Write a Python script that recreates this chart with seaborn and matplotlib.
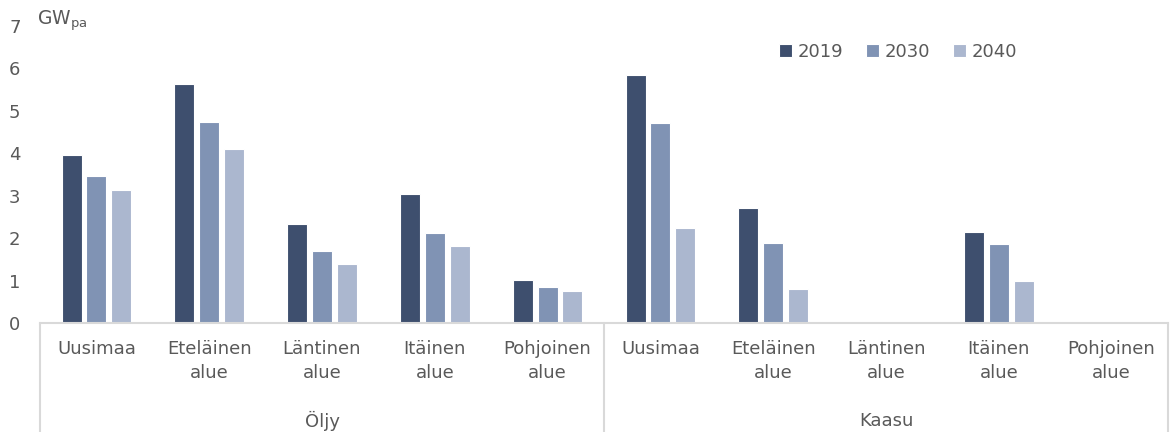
import matplotlib
matplotlib.use("Agg")
import matplotlib.pyplot as plt
import matplotlib.transforms as mtransforms
import seaborn as sns
import pandas as pd

# ---- data ----
groups = ["Öljy", "Kaasu"]
regions = ["Uusimaa", "Eteläinen\nalue", "Läntinen\nalue", "Itäinen\nalue", "Pohjoinen\nalue"]
years = ["2019", "2030", "2040"]

oljy_2019 = [3.97, 5.62, 2.34, 3.04, 1.02]
oljy_2030 = [3.47, 4.73, 1.70, 2.12, 0.85]
oljy_2040 = [3.14, 4.09, 1.40, 1.82, 0.76]

kaasu_2019 = [5.84, 2.71, 0.0, 2.16, 0.0]
kaasu_2030 = [4.71, 1.89, 0.0, 1.87, 0.0]
kaasu_2040 = [2.25, 0.81, 0.0, 0.99, 0.0]

yticks = [0, 1, 2, 3, 4, 5, 6, 7]

series = {
    ("Öljy", "2019"): oljy_2019, ("Öljy", "2030"): oljy_2030, ("Öljy", "2040"): oljy_2040,
    ("Kaasu", "2019"): kaasu_2019, ("Kaasu", "2030"): kaasu_2030, ("Kaasu", "2040"): kaasu_2040,
}

rows = []
order = []
for g in groups:
    for r in regions:
        order.append(f"{g}|{r}")
for (g, y), vals in series.items():
    for r, v in zip(regions, vals):
        rows.append({"key": f"{g}|{r}", "year": y, "value": v})
df = pd.DataFrame(rows)

# ---- style ----
sns.set_theme(style="white")
plt.rcParams["font.family"] = ["DejaVu Sans"]
text_color = "#595959"
palette = {"2019": "#3E4F6E", "2030": "#8093B4", "2040": "#ABB7CF"}

fig = plt.figure(figsize=(11.76, 4.32), dpi=100)
ax = fig.add_axes([40 / 1176, 1 - 323.3 / 432, 1128 / 1176, (323.3 - 25.8) / 432])

sns.barplot(data=df, x="key", y="value", hue="year", order=order, hue_order=years,
            palette=palette, saturation=1, width=0.66, gap=0.2, edgecolor="white",
            linewidth=0.8, ax=ax, legend=True)

ax.set_ylim(0, 7)
ax.set_xlim(-0.5, 9.5)
ax.set_yticks(yticks)
ax.set_yticklabels([str(t) for t in yticks])
ax.set_xticks(range(len(order)))
ax.set_xticklabels([k.split("|")[1] for k in order], linespacing=1.45)
ax.tick_params(axis="x", length=0, pad=12, labelsize=13, colors=text_color)
ax.tick_params(axis="y", length=0, pad=14, labelsize=13, colors=text_color)
for lab in ax.get_xticklabels():
    lab.set_color(text_color)
ax.set_xlabel("")
ax.set_ylabel("")

for s in ["top", "right", "left"]:
    ax.spines[s].set_visible(False)
ax.spines["bottom"].set_color("#D9D9D9")
ax.spines["bottom"].set_linewidth(1.5)

# category separators (two-level axis)
trans = mtransforms.blended_transform_factory(ax.transData, ax.transAxes)
for xpos in [-0.5, 4.5, 9.5]:
    ax.plot([xpos, xpos], [0, -0.37], transform=trans, color="#D9D9D9",
            linewidth=1.5, clip_on=False)

# group labels
for i, g in enumerate(groups):
    ax.text(i * 5 + 2, -0.328, g, transform=trans, ha="center", va="center",
            fontsize=13, color=text_color)

# unit label
fig.text(37 / 1176, 1 - 21 / 432, r"GW$_{\mathregular{pa}}$", ha="left", va="center",
         fontsize=13.5, color=text_color)

# legend
leg = ax.get_legend()
handles = leg.legend_handles
leg.remove()
fig.legend(handles, years, loc="center", bbox_to_anchor=(898 / 1176, 1 - 52 / 432),
           ncol=3, frameon=False, fontsize=13, handlelength=0.7, handleheight=0.7,
           handletextpad=0.3, columnspacing=1.3, labelcolor=text_color)

fig.savefig("out.png", dpi=100)
